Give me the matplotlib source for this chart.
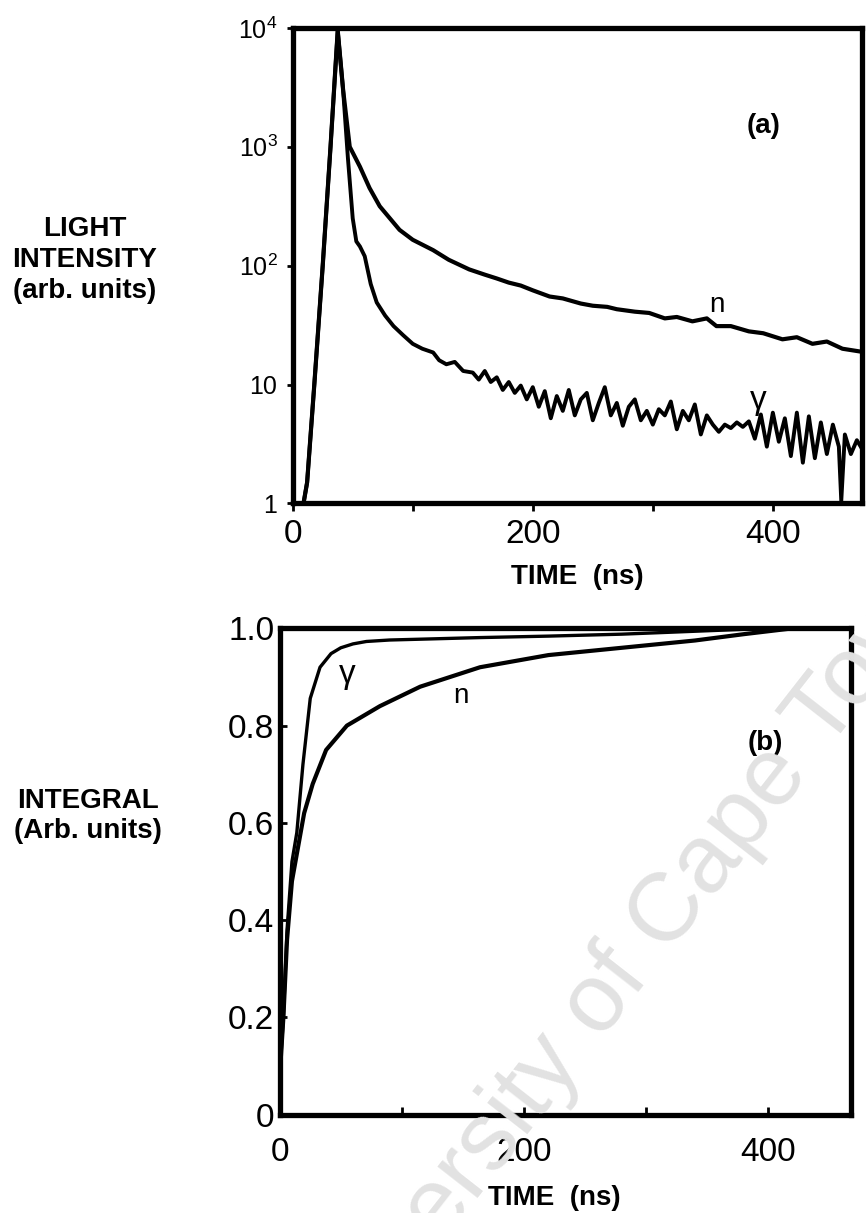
import matplotlib
matplotlib.use("Agg")
import matplotlib.pyplot as plt

plt.rcParams['font.family'] = ['Liberation Sans', 'DejaVu Sans']
plt.rcParams['mathtext.fontset'] = 'custom'
plt.rcParams['mathtext.rm'] = 'Liberation Sans'

# (a) light intensity, log scale
n_t = [9, 12, 18, 25, 31.5, 37.5, 42, 47.5, 56, 64, 72.5, 89, 100, 117, 130, 147,
       160, 170, 180, 190, 200, 214, 225, 240, 250, 262, 270, 285, 297, 310, 320,
       333, 345, 353, 365, 380, 392, 408, 420, 433, 445, 458, 472]
n_val = [1, 1.5, 10, 100, 1000, 9500, 3000, 1000, 680, 450, 316, 200, 165, 135, 112, 93,
         84, 78, 72, 68, 62, 55, 53, 48, 46, 45, 43, 41, 40, 36, 37,
         34, 36, 31, 31, 28, 27, 24, 25, 22, 23, 20, 19]

g_t = [9, 12, 18, 25, 31.5, 37.5, 42, 46, 50, 53, 56, 60, 65, 70, 77, 84, 92, 100,
       108, 117, 122, 128, 135, 142,
       150, 155, 160, 165, 170, 175, 180, 185, 190, 195, 200, 205, 210, 215, 220,
       225, 230, 235, 240, 245, 250, 255, 260, 265, 270, 275, 280, 285, 290, 295,
       300, 305, 310, 315, 320, 325, 330, 335, 340, 345, 350, 355, 360, 365, 370,
       375, 380, 385, 390, 395, 400, 405, 410, 415, 420, 425, 430, 435, 440, 445,
       450, 455, 457, 460, 465, 470, 475]
g_val = [1, 1.5, 10, 100, 1000, 9500, 3000, 800, 250, 160, 145, 120, 70, 49, 38, 31, 26, 22,
         20, 18.6, 16, 14.8, 15.5, 13,
         12.6, 11, 13, 10.5, 11.5, 9, 10.5, 8.5, 9.8, 7.5, 9.5, 6.5, 8.8, 5.2, 8,
         6, 9, 5.5, 7.5, 8.5, 5, 7, 9.5, 5.5, 7, 4.5, 6.5, 7.5, 5, 6,
         4.6, 6.2, 5.5, 7.2, 4.2, 6, 5, 6.8, 3.8, 5.5, 4.6, 4, 4.6, 4.3, 4.8,
         4.4, 4.9, 3.5, 5.6, 3, 5.8, 3.3, 5.2, 2.5, 5.8, 2.2, 5.4, 2.4, 4.8, 2.6,
         4.6, 3, 1.05, 3.8, 2.6, 3.4, 2.8]

# (b) running integral
gi_t = [0, 3, 6, 10, 14, 19, 25, 33, 42, 50, 60, 71, 90, 120, 164, 220, 280, 330, 370, 400, 468]
gi_val = [0.08, 0.2, 0.38, 0.52, 0.58, 0.72, 0.856, 0.92, 0.948, 0.96, 0.968, 0.973,
          0.976, 0.978, 0.981, 0.984, 0.988, 0.993, 0.997, 1.0, 1.0]
ni_t = [0, 3, 6, 10, 15, 20, 27, 38, 55, 82, 115, 164, 220, 280, 340, 380, 420, 468]
ni_val = [0.08, 0.2, 0.36, 0.48, 0.55, 0.62, 0.68, 0.75, 0.80, 0.84, 0.88, 0.92,
          0.945, 0.96, 0.975, 0.988, 1.0, 1.0]

log_ticks = [1, 10, 100, 1000, 10000]
log_labels = ['1', '10', r'$\mathregular{10^2}$', r'$\mathregular{10^3}$', r'$\mathregular{10^4}$']
lin_ticks = [0, 0.2, 0.4, 0.6, 0.8, 1.0]
lin_labels = ['0', '0.2', '0.4', '0.6', '0.8', '1.0']
time_ticks = [0, 100, 200, 300, 400]
time_labels = ['0', '', '200', '', '400']

fig = plt.figure(figsize=(8.66, 12.13), dpi=100)

# faint diagonal watermark across the lower panel
fig.text(0.72, 0.20, 'University of Cape Town', fontsize=70, color='#e2e2e2',
         rotation=52, ha='center', va='center', zorder=0)

ax1 = fig.add_axes([0.338, 0.585, 0.657, 0.392])
ax1.patch.set_alpha(0)
ax1.plot(n_t, n_val, color='black', lw=3)
ax1.plot(g_t, g_val, color='black', lw=2.8)
ax1.set_yscale('log')
ax1.set_xlim(0, 474)
ax1.set_ylim(1, 10000)
ax1.set_yticks(log_ticks)
ax1.set_yticklabels(log_labels)
ax1.minorticks_off()
ax1.set_xticks(time_ticks)
ax1.set_xticklabels(time_labels)
ax1.tick_params(axis='x', direction='out', length=6, width=2, pad=5, labelsize=24)
ax1.tick_params(axis='y', direction='out', length=4, width=2, pad=7, labelsize=18)
ax1.text(353, 47, 'n', fontsize=20, ha='center', va='center')
ax1.text(388, 7.4, 'γ', fontsize=24, ha='center', va='center')
ax1.text(392, 1500, '(a)', fontsize=20, fontweight='bold', ha='center', va='center')

ax2 = fig.add_axes([0.323, 0.081, 0.660, 0.401])
ax2.patch.set_alpha(0)
ax2.plot(ni_t, ni_val, color='black', lw=3)
ax2.plot(gi_t, gi_val, color='black', lw=2.4)
ax2.set_xlim(0, 468)
ax2.set_ylim(0, 1.0)
ax2.set_yticks(lin_ticks)
ax2.set_yticklabels(lin_labels)
ax2.set_xticks(time_ticks)
ax2.set_xticklabels(time_labels)
ax2.tick_params(axis='x', direction='in', length=6, width=2, pad=16, labelsize=24)
ax2.tick_params(axis='y', direction='in', length=5, width=2, pad=4, labelsize=24)
ax2.text(55, 0.905, 'γ', fontsize=24, ha='center', va='center')
ax2.text(148, 0.86, 'n', fontsize=20, ha='center', va='center')
ax2.text(398, 0.765, '(b)', fontsize=20, fontweight='bold', ha='center', va='center')

for ax in (ax1, ax2):
    for sp in ax.spines.values():
        sp.set_linewidth(3.8)

fig.text(85 / 866, 1 - 260 / 1213, 'LIGHT\nINTENSITY\n(arb. units)', fontsize=20,
         fontweight='bold', ha='center', va='center', linespacing=1.25)
fig.text(88 / 866, 1 - 816 / 1213, 'INTEGRAL\n(Arb. units)', fontsize=20,
         fontweight='bold', ha='center', va='center', linespacing=1.25)
fig.text(577 / 866, 1 - 577 / 1213, 'TIME  (ns)', fontsize=20, fontweight='bold',
         ha='center', va='center')
fig.text(554 / 866, 1 - 1198 / 1213, 'TIME  (ns)', fontsize=20, fontweight='bold',
         ha='center', va='center')

fig.savefig('out.png', dpi=100)
